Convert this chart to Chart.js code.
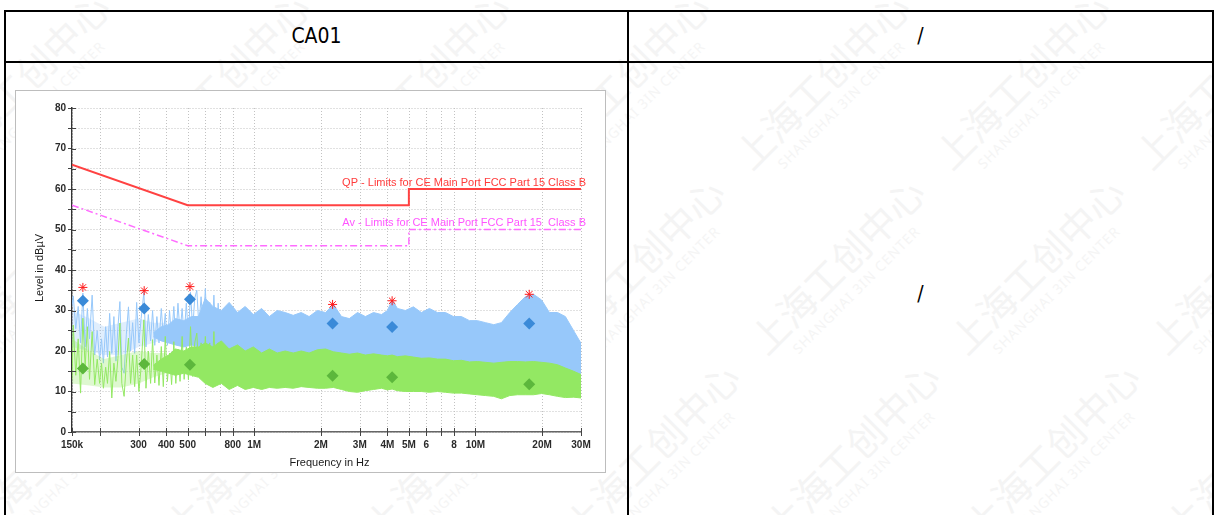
<!DOCTYPE html>
<html>
<head>
<meta charset="utf-8">
<script src="https://cdn.jsdelivr.net/npm/chart.js@4.4.1/dist/chart.umd.min.js"></script>
<style>
  html, body { margin: 0; padding: 0; background: #fff; }
  body { width: 1214px; height: 515px; overflow: hidden; position: relative;
         font-family: 'Liberation Sans Narrow', 'DejaVu Sans Condensed', sans-serif; }
  #wm { position: absolute; left: 0; top: 0; width: 1214px; height: 515px; overflow: hidden; }
  .wm { position: absolute; white-space: nowrap; transform: rotate(-45deg); transform-origin: left top; }
  .wm b { display: block; font-size: 38px; font-weight: normal; color: #f4f4f4; line-height: 44px;
          font-family: 'Noto Sans CJK SC', sans-serif; }
  .wm i { display: block; font-size: 14px; font-style: normal; color: #f5f5f5; padding-left: 24px;
          font-family: 'Noto Sans', sans-serif; letter-spacing: 1px; }
  .rule { position: absolute; background: #000; }
  .txt { position: absolute; font-size: 21px; color: #000; text-align: center; line-height: 24px; }
  #frame { position: absolute; left: 15px; top: 90px; width: 589px; height: 381px;
           border: 1px solid #bdbdbd; background: #fff; }
  #frame canvas { display: block; }
</style>
</head>
<body>
<div id="wm"></div>

<div class="rule" style="left:4px;top:10px;width:1210px;height:2px"></div>
<div class="rule" style="left:4px;top:61px;width:1210px;height:2px"></div>
<div class="rule" style="left:4px;top:10px;width:2px;height:505px"></div>
<div class="rule" style="left:627px;top:10px;width:2px;height:505px"></div>
<div class="rule" style="left:1212px;top:10px;width:2px;height:505px"></div>

<div class="txt" style="left:6px;top:24px;width:621px">CA01</div>
<div class="txt" style="left:629px;top:24px;width:583px">/</div>
<div class="txt" style="left:629px;top:282px;width:583px">/</div>

<div id="frame"><canvas id="c" width="589" height="381"></canvas></div>

<script>
// frequency axis in MHz
const xTickVals = [0.15, 0.2, 0.3, 0.4, 0.5, 0.6, 0.7, 0.8, 1, 2, 3, 4, 5, 6, 7, 8, 10, 20, 30];
const xTickLabels = ['150k', '', '300', '400', '500', '', '', '800', '1M', '2M', '3M', '4M', '5M', '6', '', '8', '10M', '20M', '30M'];
const xTitle = 'Frequency in Hz';
const yTitle = 'Level in dB\u00b5V';

// limit lines
const limitFreq = [0.15, 0.5, 5, 5, 30];
const qpLimit = [66, 56, 56, 60, 60];
const avLimit = [56, 46, 46, 50, 50];
const qpLabel = 'QP - Limits for CE Main Port FCC Part 15 Class B';
const avLabel = 'Av - Limits for CE Main Port FCC Part 15  Class B';

// final measurement points
const markFreq = [0.168, 0.318, 0.512, 2.26, 4.2, 17.5];
const peakStar = [35.7, 34.9, 35.9, 31.5, 32.4, 34.0];
const qpFinal = [32.4, 30.5, 32.8, 26.8, 25.9, 26.8];
const avFinal = [15.7, 16.8, 16.6, 13.9, 13.5, 11.8];

// low band scan, 150 kHz .. 700 kHz (peaks and troughs)
const lowFreq = [0.150, 0.152, 0.156, 0.160, 0.164, 0.168, 0.172, 0.176, 0.180, 0.185,
  0.190, 0.195, 0.200, 0.204, 0.208, 0.213, 0.217, 0.222, 0.227, 0.232,
  0.237, 0.242, 0.247, 0.252, 0.258, 0.264, 0.270, 0.276, 0.282, 0.288,
  0.294, 0.301, 0.308, 0.317, 0.324, 0.332, 0.340, 0.347, 0.355, 0.363,
  0.371, 0.380, 0.388, 0.396, 0.405, 0.414, 0.423, 0.433, 0.442, 0.452,
  0.462, 0.472, 0.482, 0.493, 0.504, 0.515, 0.527, 0.538, 0.550, 0.562,
  0.575, 0.588, 0.601, 0.615, 0.629, 0.643, 0.657, 0.672, 0.687, 0.700];
const peakLow = [31.0, 33.6, 25.5, 31.0, 22.0, 34.3, 21.0, 30.5, 23.0, 33.8,
  19.0, 25.0, 17.8, 23.0, 17.0, 26.0, 18.5, 29.3, 19.4, 28.5,
  17.5, 26.0, 32.2, 16.0, 14.5, 24.0, 30.9, 20.0, 27.0, 19.4,
  32.0, 22.0, 28.0, 34.5, 21.0, 29.0, 22.5, 30.0, 21.4, 28.5,
  22.0, 30.5, 23.6, 29.3, 21.4, 30.0, 23.0, 31.0, 22.5, 31.8,
  24.4, 30.5, 23.5, 31.8, 23.6, 34.5, 25.2, 33.0, 35.0, 26.0,
  33.4, 25.0, 35.4, 24.0, 32.0, 23.6, 33.8, 22.0, 31.8, 24.0];
const avgLow = [13.0, 26.4, 14.0, 23.0, 9.6, 28.1, 16.0, 26.0, 13.0, 24.8,
  11.7, 18.0, 12.0, 17.0, 10.8, 16.0, 12.0, 19.9, 8.4, 17.0,
  12.5, 18.2, 26.9, 12.0, 8.8, 17.0, 23.2, 12.0, 19.0, 11.2,
  19.0, 10.0, 16.0, 27.7, 10.8, 20.0, 12.0, 22.8, 12.1, 19.0,
  11.5, 21.1, 11.2, 23.6, 12.5, 19.5, 11.7, 22.3, 12.0, 20.5,
  12.5, 23.6, 13.0, 21.0, 12.9, 26.0, 13.7, 22.0, 24.4, 14.1,
  22.0, 13.5, 23.6, 14.0, 22.0, 13.0, 24.8, 12.5, 22.0, 12.1];

// faint haze of overlapping sweeps under the low band spikes
const hazeFreq = [0.15, 0.18, 0.21, 0.25, 0.30, 0.35, 0.40];
const peakHazeUp = [30, 28, 26, 27, 28, 27, 27];
const peakHazeLo = [21, 20, 19, 19, 21, 22, 23];
const avgHazeUp = [23, 20, 18, 19, 20, 19.5, 19.5];
const avgHazeLo = [12, 11.5, 11, 11, 12, 13.5, 14.5];

// dense part of the scan, 350 kHz .. 30 MHz (upper / lower envelope)
const bandFreq = [0.35, 0.38, 0.41, 0.44, 0.48, 0.52, 0.56,
  0.60, 0.65, 0.71, 0.77, 0.84, 0.91, 0.99, 1.08, 1.17, 1.27,
  1.38, 1.50, 1.63, 1.77, 1.93, 2.10, 2.28, 2.48, 2.69, 2.93,
  3.18, 3.46, 3.76, 4.00, 4.20, 4.44, 4.82, 5.24, 5.70, 6.19,
  6.73, 7.32, 7.95, 8.64, 9.39, 10.2, 11.1, 12.1, 13.1, 14.3,
  15.5, 16.8, 18.3, 19.9, 21.6, 23.5, 25.5, 27.8, 30.0];
const peakUpper = [24.5, 26, 26.5, 28, 27.5, 28.5, 28.5,
  33, 31, 30, 32, 29.5, 31, 29, 30.5, 28.5, 30,
  29.5, 28.8, 29.5, 28.5, 30, 29.5, 31.5, 28.5, 28, 29.5,
  28.5, 29.5, 29, 30, 32.6, 30.5, 30, 30.9, 29.5, 30.5,
  29.5, 29.5, 28.5, 28.5, 27.5, 27.5, 27, 26.5, 27, 29.5,
  31.5, 33.4, 34, 32.6, 29.5, 29.5, 28.5, 25, 21.9];
const peakLower = [23.5, 22.5, 22, 21.5, 21, 21.5, 21,
  19, 19, 19, 19, 18.5, 18.5, 18, 18, 18, 18,
  18, 18, 18, 18, 18, 18, 18, 17.8, 17.5, 17.5,
  17.3, 17.3, 17.2, 17, 17, 17, 17, 16.8, 16.6, 16.6,
  16.4, 16.3, 16, 16, 15.8, 15.8, 15.6, 15.5, 15.5, 15.8,
  15.8, 15.8, 15.8, 15.6, 15.4, 15, 14.5, 14, 13.5];
const avgUpper = [16.5, 18, 19, 20.5, 20, 21, 21,
  22, 21, 22.5, 20.5, 21.5, 20, 21, 19.5, 20.5, 19.5,
  20, 19.5, 20, 19.5, 20.3, 20.5, 19.8, 19.5, 19.2, 19.5,
  19, 19.3, 19, 18.8, 19, 18.6, 18.8, 18.5, 18.2, 18.3,
  18, 18, 17.6, 17.7, 17.3, 17.4, 17.2, 17, 17.2, 17.4,
  17.4, 17.3, 17.4, 17.2, 17, 16.6, 15.8, 15, 14.2];
const avgLower = [15.5, 15, 14.5, 14, 14.5, 14, 13.5,
  12, 11, 12, 10.5, 11.5, 10.5, 11, 10.5, 11, 10.8,
  11, 10.8, 11.2, 11, 10.8, 10.8, 11, 10.5, 10, 9.8,
  10.2, 10.5, 10.8, 10.4, 10.6, 10.2, 10, 10, 10, 9.8,
  10, 9.8, 9.6, 9.6, 9.4, 9.2, 9, 8.8, 8.2, 9,
  9.2, 9.2, 9.2, 9.5, 9.2, 8.8, 8.5, 8.6, 8.4];

const BLUE = '#97c8fa';
const GREEN = '#93e863';
const BLUE_HAZE = 'rgba(151, 200, 250, 0.3)';
const GREEN_HAZE = 'rgba(147, 232, 99, 0.3)';

const pts = (xs, ys) => xs.map((x, i) => ({ x: x, y: ys[i] }));

// faint watermark behind the page, phrases running along diagonals
const wm = document.getElementById('wm');
for (let a = -4; a < 6; a++) {
  for (let b = -2; b < 12; b++) {
    const left = a * 185 + b * 200 - 60;
    const top = 330 - a * 185;
    if (left < -400 || left > 1300 || top < -50 || top > 900) continue;
    const d = document.createElement('div');
    d.className = 'wm';
    d.style.left = left + 'px';
    d.style.top = top + 'px';
    d.innerHTML = '<b>上海工创中心</b><i>SHANGHAI 3IN CENTER</i>';
    wm.appendChild(d);
  }
}

const decor = {
  id: 'decor',
  beforeDatasetsDraw(chart) {
    // vertical dotted grid on the frequency ticks
    const { ctx, chartArea: a, scales: { x } } = chart;
    ctx.save();
    ctx.strokeStyle = '#c2c2c2';
    ctx.lineWidth = 1;
    ctx.setLineDash([1, 2]);
    ctx.beginPath();
    xTickVals.forEach(v => {
      const px = Math.round(x.getPixelForValue(v)) + 0.5;
      ctx.moveTo(px, a.top); ctx.lineTo(px, a.bottom);
    });
    ctx.stroke();
    ctx.restore();
  },
  afterDraw(chart) {
    const { ctx, chartArea: a, scales: { x, y } } = chart;
    ctx.save();
    // tick marks crossing the axes
    ctx.strokeStyle = '#444';
    ctx.lineWidth = 1;
    ctx.beginPath();
    y.ticks.forEach(t => {
      const py = Math.round(y.getPixelForValue(t.value)) + 0.5;
      ctx.moveTo(a.left, py); ctx.lineTo(a.left + 4, py);
    });
    xTickVals.forEach(v => {
      const px = Math.round(x.getPixelForValue(v)) + 0.5;
      ctx.moveTo(px, a.bottom + 4); ctx.lineTo(px, a.bottom - 4);
    });
    ctx.stroke();

    // axis titles
    ctx.fillStyle = '#1a1a1a';
    ctx.font = '11px "Liberation Sans", Arial, sans-serif';
    ctx.textAlign = 'center';
    ctx.textBaseline = 'middle';
    ctx.fillText(xTitle, (a.left + a.right) / 2 + 3, a.bottom + 31);
    ctx.translate(a.left - 32, (a.top + a.bottom) / 2 - 2);
    ctx.rotate(-Math.PI / 2);
    ctx.fillText(yTitle, 0, 0);
    ctx.restore();

    // limit line captions
    ctx.save();
    ctx.font = '11px "Liberation Sans", Arial, sans-serif';
    ctx.textAlign = 'right';
    ctx.textBaseline = 'alphabetic';
    const rx = x.getPixelForValue(limitFreq[limitFreq.length - 1]) + 5;
    ctx.fillStyle = '#ff3b3b';
    ctx.fillText(qpLabel, rx, y.getPixelForValue(qpLimit[qpLimit.length - 1]) - 3);
    ctx.fillStyle = '#ff55ff';
    ctx.fillText(avLabel, rx, y.getPixelForValue(avLimit[avLimit.length - 1]) - 4);
    ctx.restore();
  }
};

const lineDs = (data, color, extra) => Object.assign({
  data: data, borderColor: color, backgroundColor: color, borderWidth: 1,
  pointRadius: 0, fill: false, tension: 0
}, extra || {});

new Chart(document.getElementById('c').getContext('2d'), {
  type: 'line',
  data: {
    datasets: [
      { data: pts(markFreq, peakStar), showLine: false, pointStyle: 'star', pointRadius: 4.5,
        borderColor: '#ff1a1a', backgroundColor: '#ff1a1a', pointBorderWidth: 1 },
      { data: pts(markFreq, qpFinal), showLine: false, pointStyle: 'rectRot', pointRadius: 6,
        borderColor: '#3a8ad8', backgroundColor: '#3a8ad8', pointBorderWidth: 0 },
      { data: pts(markFreq, avFinal), showLine: false, pointStyle: 'rectRot', pointRadius: 6,
        borderColor: '#5cb73c', backgroundColor: '#5cb73c', pointBorderWidth: 0 },
      lineDs(pts(limitFreq, qpLimit), '#ff4242', { borderWidth: 2 }),
      lineDs(pts(limitFreq, avLimit), '#ff6cff', { borderWidth: 1.5, borderDash: [7, 3, 2, 3] }),
      lineDs(pts(lowFreq, avgLow), GREEN),
      lineDs(pts(bandFreq, avgLower), GREEN),
      lineDs(pts(bandFreq, avgUpper), GREEN, { fill: '-1' }),
      lineDs(pts(hazeFreq, avgHazeLo), GREEN_HAZE, { borderWidth: 0 }),
      lineDs(pts(hazeFreq, avgHazeUp), GREEN_HAZE, { borderWidth: 0, fill: '-1' }),
      lineDs(pts(lowFreq, peakLow), BLUE),
      lineDs(pts(bandFreq, peakLower), BLUE),
      lineDs(pts(bandFreq, peakUpper), BLUE, { fill: '-1' }),
      lineDs(pts(hazeFreq, peakHazeLo), BLUE_HAZE, { borderWidth: 0 }),
      lineDs(pts(hazeFreq, peakHazeUp), BLUE_HAZE, { borderWidth: 0, fill: '-1' })
    ]
  },
  options: {
    responsive: false,
    animation: false,
    devicePixelRatio: 1,
    layout: { padding: { top: 17, right: 24, bottom: 0, left: 0 } },
    plugins: { legend: { display: false }, tooltip: { enabled: false } },
    scales: {
      x: {
        type: 'logarithmic', min: 0.15, max: 30,
        afterBuildTicks: s => { s.ticks = xTickVals.map(v => ({ value: v })); },
        afterFit: s => { s.height = 40; },
        ticks: {
          autoSkip: false, maxRotation: 0, padding: 7, color: '#2a2a2a',
          font: { family: 'Liberation Sans', size: 10, weight: 'bold' },
          callback: (v, i) => xTickLabels[i]
        },
        grid: { display: false, drawTicks: false },
        border: { display: true, color: '#666', width: 1.5 }
      },
      y: {
        min: 0, max: 80,
        afterFit: s => { s.width = 56; },
        ticks: {
          stepSize: 5, padding: 2, color: '#2a2a2a',
          font: { family: 'Liberation Sans', size: 10, weight: 'bold' },
          callback: v => (v % 10 === 0 ? v : '')
        },
        grid: { color: '#c2c2c2', lineWidth: 1, tickLength: 4, tickColor: '#444', tickWidth: 1 },
        border: { display: true, color: '#333', width: 1.5, dash: [1, 2] }
      }
    }
  },
  plugins: [decor]
});
</script>
</body>
</html>
